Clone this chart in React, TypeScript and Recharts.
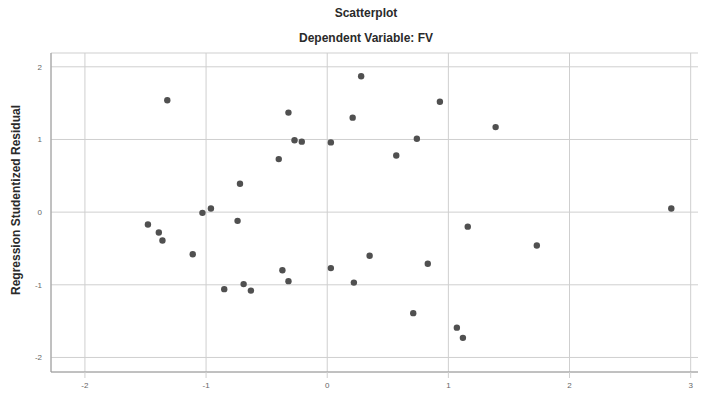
import React from 'react';
import {
    ScatterChart, Scatter, XAxis, YAxis, CartesianGrid
} from 'recharts';

// regression standardized predicted value (x) vs studentized residual (y)
const predicted = [
    -1.32, -0.32, 0.28, 0.21, -0.27, -0.21, 0.03, 0.57, -0.40, -0.72,
    -1.03, -0.96, -1.48, -0.74, -1.39, -1.36, -1.11, -0.37, -0.32, 0.03,
    0.35, 0.22, -0.85, -0.69, -0.63, 0.93, 1.39, 0.74, 2.84, 1.16,
    1.73, 0.83, 0.71, 1.07, 1.12
];
const residual = [
    1.54, 1.37, 1.87, 1.30, 0.99, 0.97, 0.96, 0.78, 0.73, 0.39,
    -0.01, 0.05, -0.17, -0.12, -0.28, -0.39, -0.58, -0.80, -0.95, -0.77,
    -0.60, -0.97, -1.06, -0.99, -1.08, 1.52, 1.17, 1.01, 0.05, -0.20,
    -0.46, -0.71, -1.39, -1.59, -1.73
];
const xTicks = [-2, -1, 0, 1, 2, 3];
const yTicks = [-2, -1, 0, 1, 2];

const points = predicted.map((x, i) => ({ x, y: residual[i] }));

const Dot = (props: any) => {
    const { cx, cy } = props;
    if (cx == null || cy == null) return null;
    return <circle cx={cx} cy={cy} r={3.2} fill="#505050" />;
};

const App: React.FC = () => {
    return (
        <div style={{ position: 'relative', width: 706, height: 399, margin: -8, background: '#fff', fontFamily: '"Liberation Sans", Arial, sans-serif' }}>
            <div style={{ position: 'absolute', top: 6, left: 0, width: 732, textAlign: 'center', fontSize: 12, fontWeight: 'bold', color: '#2a2a2a' }}>
                Scatterplot
            </div>
            <div style={{ position: 'absolute', top: 31, left: 0, width: 732, textAlign: 'center', fontSize: 12, fontWeight: 'bold', color: '#2a2a2a' }}>
                Dependent Variable: FV
            </div>
            <div style={{
                position: 'absolute', left: 16, top: 200, transform: 'translate(-50%, -50%) rotate(-90deg)',
                whiteSpace: 'nowrap', fontSize: 12, fontWeight: 'bold', color: '#2a2a2a'
            }}>
                Regression Studentized Residual
            </div>
            <ScatterChart width={706} height={399} margin={{ top: 53, right: 2, left: 8, bottom: 7 }}>
                <CartesianGrid stroke="#cfcfcf" strokeWidth={1} />
                <XAxis
                    type="number"
                    dataKey="x"
                    domain={[-2.28, 3.11]}
                    ticks={xTicks}
                    allowDataOverflow
                    height={20}
                    stroke="#9a9a9a"
                    tickLine={{ stroke: '#cfcfcf' }}
                    tickSize={6}
                    tickMargin={4}
                    tick={{ fontSize: 8, fill: '#666' }}
                />
                <YAxis
                    type="number"
                    dataKey="y"
                    domain={[-2.2, 2.19]}
                    ticks={yTicks}
                    allowDataOverflow
                    width={43}
                    stroke="#9a9a9a"
                    tickLine={false}
                    tickMargin={3}
                    tick={{ fontSize: 8, fill: '#666' }}
                />
                <Scatter data={points} shape={<Dot />} isAnimationActive={false} />
            </ScatterChart>
        </div>
    );
};

export default App;
